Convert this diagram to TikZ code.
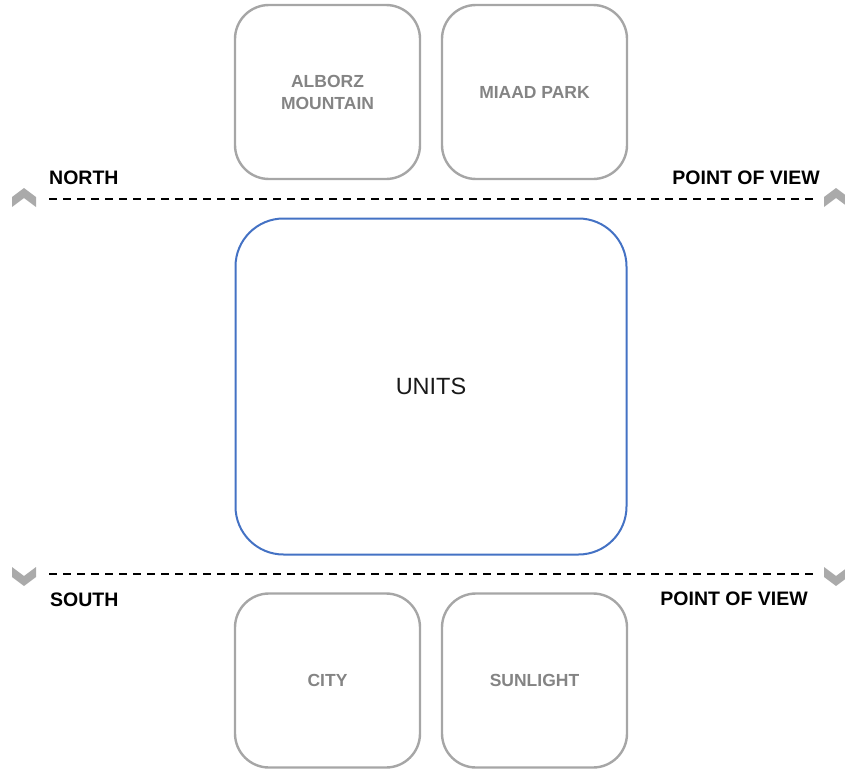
\documentclass[tikz,border=0pt]{standalone}
\usepackage{fontspec}
\setmainfont{Liberation Sans}
\usetikzlibrary{positioning}
\definecolor{boxgray}{HTML}{A6A6A6}
\definecolor{textgray}{HTML}{848484}
\definecolor{unitblue}{HTML}{4472C4}
\definecolor{chevgray}{HTML}{AAAAAA}

\begin{document}
\begin{tikzpicture}[x=1pt,y=1pt,on grid,
   place/.style={draw=boxgray,line width=2.4pt,rounded corners=34pt,minimum width=185pt,minimum height=174pt,inner sep=0pt,align=center,text=textgray,font=\fontsize{17.5}{22}\selectfont\bfseries},
   units/.style={draw=unitblue,line width=2pt,rounded corners=48pt,minimum width=391pt,minimum height=336pt,inner sep=0pt,font=\fontsize{23.5}{27}\selectfont,text=black!90},
   heading/.style={font=\fontsize{19.5}{23}\selectfont\bfseries,inner sep=0pt},
   horizon/.style={dash pattern=on 8pt off 6pt,line width=2pt},
   chevron/.style={fill=chevgray}]
   \useasboundingbox (0,0) rectangle (845,-768);
   \node[units] (units) at (431,-386.5) {UNITS};
   \node[place] (alborz) [above left=294.5pt and 103.5pt of units] {ALBORZ\\MOUNTAIN};
   \node[place] (miaad) [above right=294.5pt and 103.5pt of units] {MIAAD PARK};
   \node[place] (city) [below left=294pt and 103.5pt of units] {CITY};
   \node[place] (sunlight) [below right=294pt and 103.5pt of units] {SUNLIGHT};
   % horizon lines
   \coordinate (north-l) at (49,-199);
   \coordinate (north-r) at (815,-199);
   \coordinate (south-l) at (49,-574);
   \coordinate (south-r) at (815,-574);
   \draw[horizon] (north-l) -- (north-r);
   \draw[horizon] (south-l) -- (south-r);
   \node[heading,anchor=base west] (north) at (49,-184) {NORTH};
   \node[heading,anchor=base east] (pov-n) at (820,-184) {POINT OF VIEW};
   \node[heading,anchor=base west] (south) at (50,-606) {SOUTH};
   \node[heading,anchor=base east] (pov-s) at (808,-605) {POINT OF VIEW};
   % chevrons
   \foreach \cx in {24,836} {
      \fill[chevron] (\cx-12,-197) -- (\cx,-188) -- (\cx+12,-197) -- (\cx+12,-207) -- (\cx,-198) -- (\cx-12,-207) -- cycle;
      \fill[chevron] (\cx-12,-577) -- (\cx,-586) -- (\cx+12,-577) -- (\cx+12,-567) -- (\cx,-576) -- (\cx-12,-567) -- cycle;
   }
\end{tikzpicture}
\end{document}
